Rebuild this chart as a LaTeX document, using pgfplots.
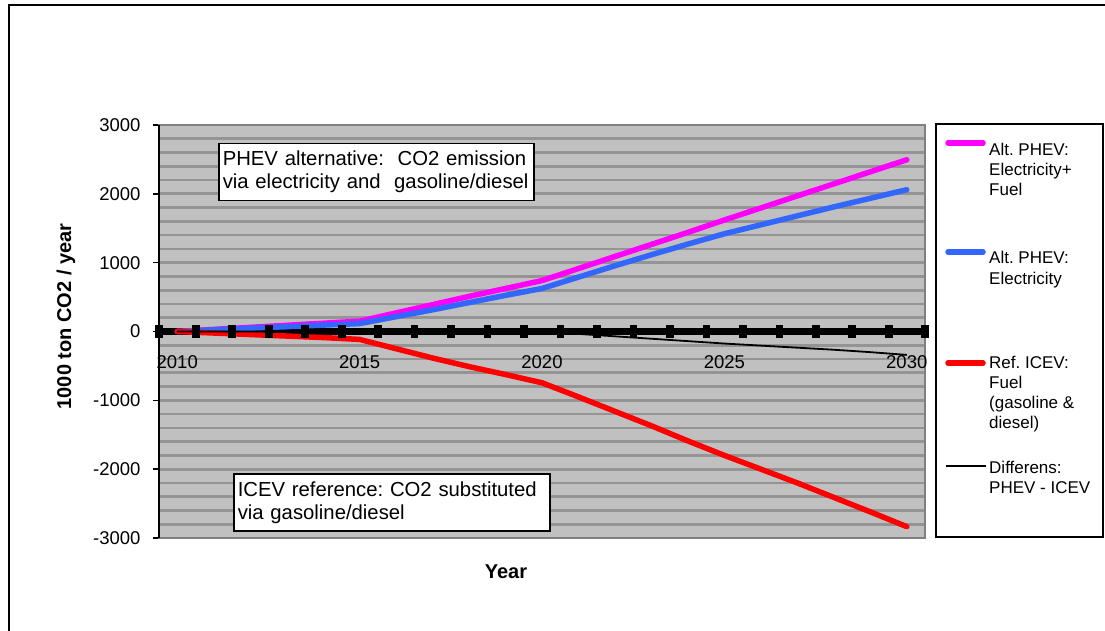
\documentclass[border=0pt]{standalone}
\usepackage{fontspec}
\setmainfont{Liberation Sans}
\usepackage{pgfplots}
\pgfplotsset{compat=1.18}
\usepackage{pgfplotstable}
\frenchspacing

\definecolor{magline}{RGB}{255,0,255}
\definecolor{blueline}{RGB}{51,102,255}
\definecolor{redline}{RGB}{255,0,0}
\definecolor{plotbg}{RGB}{192,192,192}
\definecolor{gridc}{RGB}{148,148,148}
\definecolor{bordc}{RGB}{128,128,128}

\pgfplotstableread{
idx year mag blue red diff
0 2010 0 0 0 0
1 2011 30 25 -22 0
2 2012 60 48 -44 0
3 2013 90 70 -66 0
4 2014 120 93 -88 0
5 2015 150 115 -115 0
6 2016 270 215 -250 0
7 2017 390 315 -385 0
8 2018 510 420 -510 0
9 2019 625 525 -625 0
10 2020 740 625 -745 -5
11 2021 915 790 -950 -35
12 2022 1090 955 -1160 -70
13 2023 1265 1115 -1370 -105
14 2024 1440 1270 -1590 -140
15 2025 1620 1420 -1800 -175
16 2026 1795 1550 -2000 -205
17 2027 1970 1680 -2200 -235
18 2028 2145 1810 -2410 -265
19 2029 2320 1935 -2620 -300
20 2030 2495 2060 -2835 -340
}\datatable

\newcommand{\legtext}[1]{\parbox[t]{112pt}{\raggedright\fontsize{17}{20}\selectfont #1}}

\begin{document}
\begin{tikzpicture}[x=1pt,y=1pt]
\useasboundingbox (0,0) rectangle (1105,630);
\draw[line width=1.5pt] (9,-20) -- (9,625) -- (1130,625);
\begin{axis}[
  at={(159pt,92pt)}, anchor=south west,
  scale only axis, width=766pt, height=413pt,
  xmin=-0.5, xmax=20.5, ymin=-3000, ymax=3000,
  clip=false,
  axis background/.style={fill=plotbg},
  axis line style={bordc, line width=2pt},
  xtick=\empty,
  ytick={-3000,-2000,...,3000},
  yticklabels={-3000,-2000,-1000,0,1000,2000,3000},
  ytick pos=left,
  minor ytick={-2800,-2600,...,2800},
  ymajorgrids, yminorgrids,
  major grid style={gridc, line width=2.7pt},
  minor grid style={gridc, line width=2.7pt},
  tick align=outside,
  major tick length=6pt,
  minor tick length=0pt,
  ytick style={black, line width=1.5pt},
  yticklabel style={font=\fontsize{18.5}{20}\selectfont, xshift=-9pt, /pgf/number format/assume math mode=true},
]
\addplot[black, line width=6.5pt, forget plot] coordinates {(-0.5,0) (20.5,0)};
\addplot[only marks, mark=square*, mark size=4.2pt, mark options={xscale=0.8, yscale=1.4, black}, forget plot]
  coordinates {(-0.5,0) (0.5,0) (1.5,0) (2.5,0) (3.5,0) (4.5,0) (5.5,0) (6.5,0) (7.5,0) (8.5,0) (9.5,0) (10.5,0) (11.5,0) (12.5,0) (13.5,0) (14.5,0) (15.5,0) (16.5,0) (17.5,0) (18.5,0) (19.5,0) (20.5,0)};
\addplot[magline, line width=5.5pt, line join=round, line cap=round] table[x=idx, y=mag] {\datatable};
\addplot[blueline, line width=5.5pt, line join=round, line cap=round] table[x=idx, y=blue] {\datatable};
\addplot[redline, line width=5.5pt, line join=round, line cap=round] table[x=idx, y=red] {\datatable};
\addplot[black, line width=1.8pt, line join=round] table[x=idx, y=diff] {\datatable};
\draw[black, line width=1.5pt] (rel axis cs:0,0) -- (rel axis cs:0,1);
\node[font=\fontsize{18.5}{20}\selectfont] at (axis cs:0,-450) {2010};
\node[font=\fontsize{18.5}{20}\selectfont] at (axis cs:5,-450) {2015};
\node[font=\fontsize{18.5}{20}\selectfont] at (axis cs:10,-450) {2020};
\node[font=\fontsize{18.5}{20}\selectfont] at (axis cs:15,-450) {2025};
\node[font=\fontsize{18.5}{20}\selectfont] at (axis cs:20,-450) {2030};
\end{axis}
% annotation boxes
\node[draw, line width=1.5pt, fill=white, anchor=north west, inner xsep=4pt, text width=307pt,
  minimum height=57pt, align=left, font=\fontsize{20.3}{23}\selectfont] at (218,487)
  {\mbox{PHEV alternative:\ \ CO2 emission}\\\mbox{via electricity and\ \ gasoline/diesel}};
\node[draw, line width=1.5pt, fill=white, anchor=north west, inner xsep=4pt, text width=308pt,
  minimum height=57pt, align=left, font=\fontsize{20.3}{23}\selectfont] at (233,157)
  {\mbox{ICEV reference: CO2 substituted}\\\mbox{via gasoline/diesel}};
% axis titles
\node[font=\bfseries\fontsize{20}{22}\selectfont] at (506,58) {Year};
\node[font=\bfseries\fontsize{20}{22}\selectfont, rotate=90] at (66,313.5) {1000 ton CO2 / year};
% legend
\draw[black, line width=1.5pt, fill=white] (936,506) rectangle (1103,93);
\draw[magline, line width=5.5pt, line cap=round] (948,487) -- (983,487);
\node[anchor=base west, inner sep=0pt] at (989,474) {\legtext{Alt. PHEV:\\Electricity+\\Fuel}};
\draw[blueline, line width=5.5pt, line cap=round] (948,378) -- (983,378);
\node[anchor=base west, inner sep=0pt] at (989,366) {\legtext{Alt. PHEV:\\Electricity}};
\draw[redline, line width=5.5pt, line cap=round] (948,267) -- (983,267);
\node[anchor=base west, inner sep=0pt] at (989,262) {\legtext{Ref. ICEV:\\Fuel\\(gasoline \&\\diesel)}};
\draw[black, line width=1.8pt] (946,164) -- (986,164);
\node[anchor=base west, inner sep=0pt] at (989,157) {\legtext{Differens:\\PHEV - ICEV}};
\end{tikzpicture}
\end{document}
